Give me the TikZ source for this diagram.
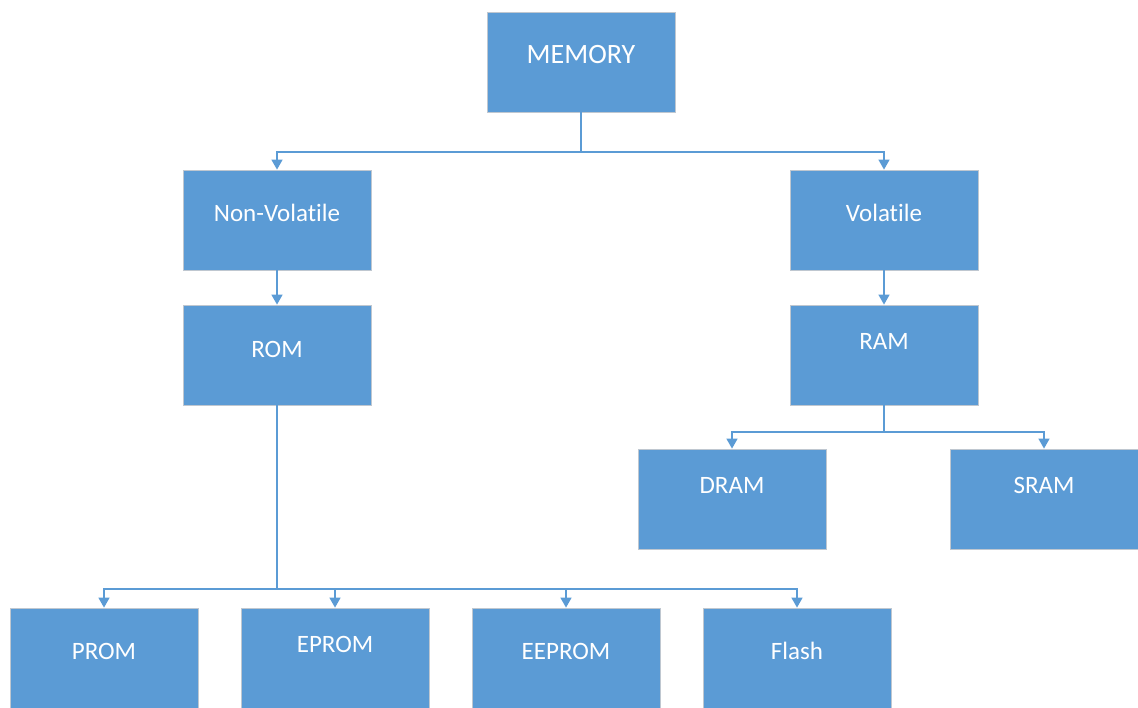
\documentclass[tikz,border=0pt]{standalone}
\usepackage{fontspec}
\setmainfont{Carlito}[Ligatures=NoCommon]
\usetikzlibrary{arrows.meta}
\definecolor{boxblue}{HTML}{5B9BD5}
\definecolor{boxedge}{HTML}{BFC7D0}
\begin{document}
\begin{tikzpicture}[x=1pt,y=-1pt,
	box/.style={draw=boxedge,line width=.8pt,fill=boxblue,text=white,minimum width=188pt,minimum height=100pt,inner sep=0pt,font=\fontsize{25}{30}\selectfont,text height=16pt},
	up/.style={text depth=#1},
	conn/.style={draw=boxblue,line width=1.5pt},
	arr/.style={conn,-{Triangle[width=11pt,length=10pt]}}]
	\useasboundingbox (0,0) rectangle (1138,707);
	\node[box,up=16pt,font=\fontsize{28}{32}\selectfont,text height=18pt](mem) at (581,62){MEMORY};
	\node[box,up=14pt](nv) at (277,220){Non-Volatile};
	\node[box,up=14pt](vol) at (884,220){Volatile};
	\node[box,up=12pt](rom) at (277,355){ROM};
	\node[box,up=28pt](ram) at (884,355){RAM};
	\node[box,up=28pt](dram) at (732,499){DRAM};
	\node[box,up=28pt](sram) at (1044,499){SRAM};
	\node[box,up=14pt](prom) at (104,658){PROM};
	\node[box,up=28pt](eprom) at (335,658){EPROM};
	\node[box,up=14pt](eeprom) at (566,658){EEPROM};
	\node[box,up=14pt](flash) at (797,658){Flash};
	\coordinate (jm) at (581,152);
	\coordinate (jr) at (277,589);
	\coordinate (ja) at (884,432);
	\draw[conn](mem.south)--(jm);
	\draw[arr](jm)-|(nv.north);
	\draw[arr](jm)-|(vol.north);
	\draw[arr](nv.south)--(rom.north);
	\draw[arr](vol.south)--(ram.north);
	\draw[conn](ram.south)--(ja);
	\draw[arr](ja)-|(dram.north);
	\draw[arr](ja)-|(sram.north);
	\draw[conn](rom.south)--(jr);
	\draw[arr](jr)-|(prom.north);
	\draw[arr](jr)-|(eprom.north);
	\draw[arr](jr)-|(eeprom.north);
	\draw[arr](jr)-|(flash.north);
\end{tikzpicture}
\end{document}
